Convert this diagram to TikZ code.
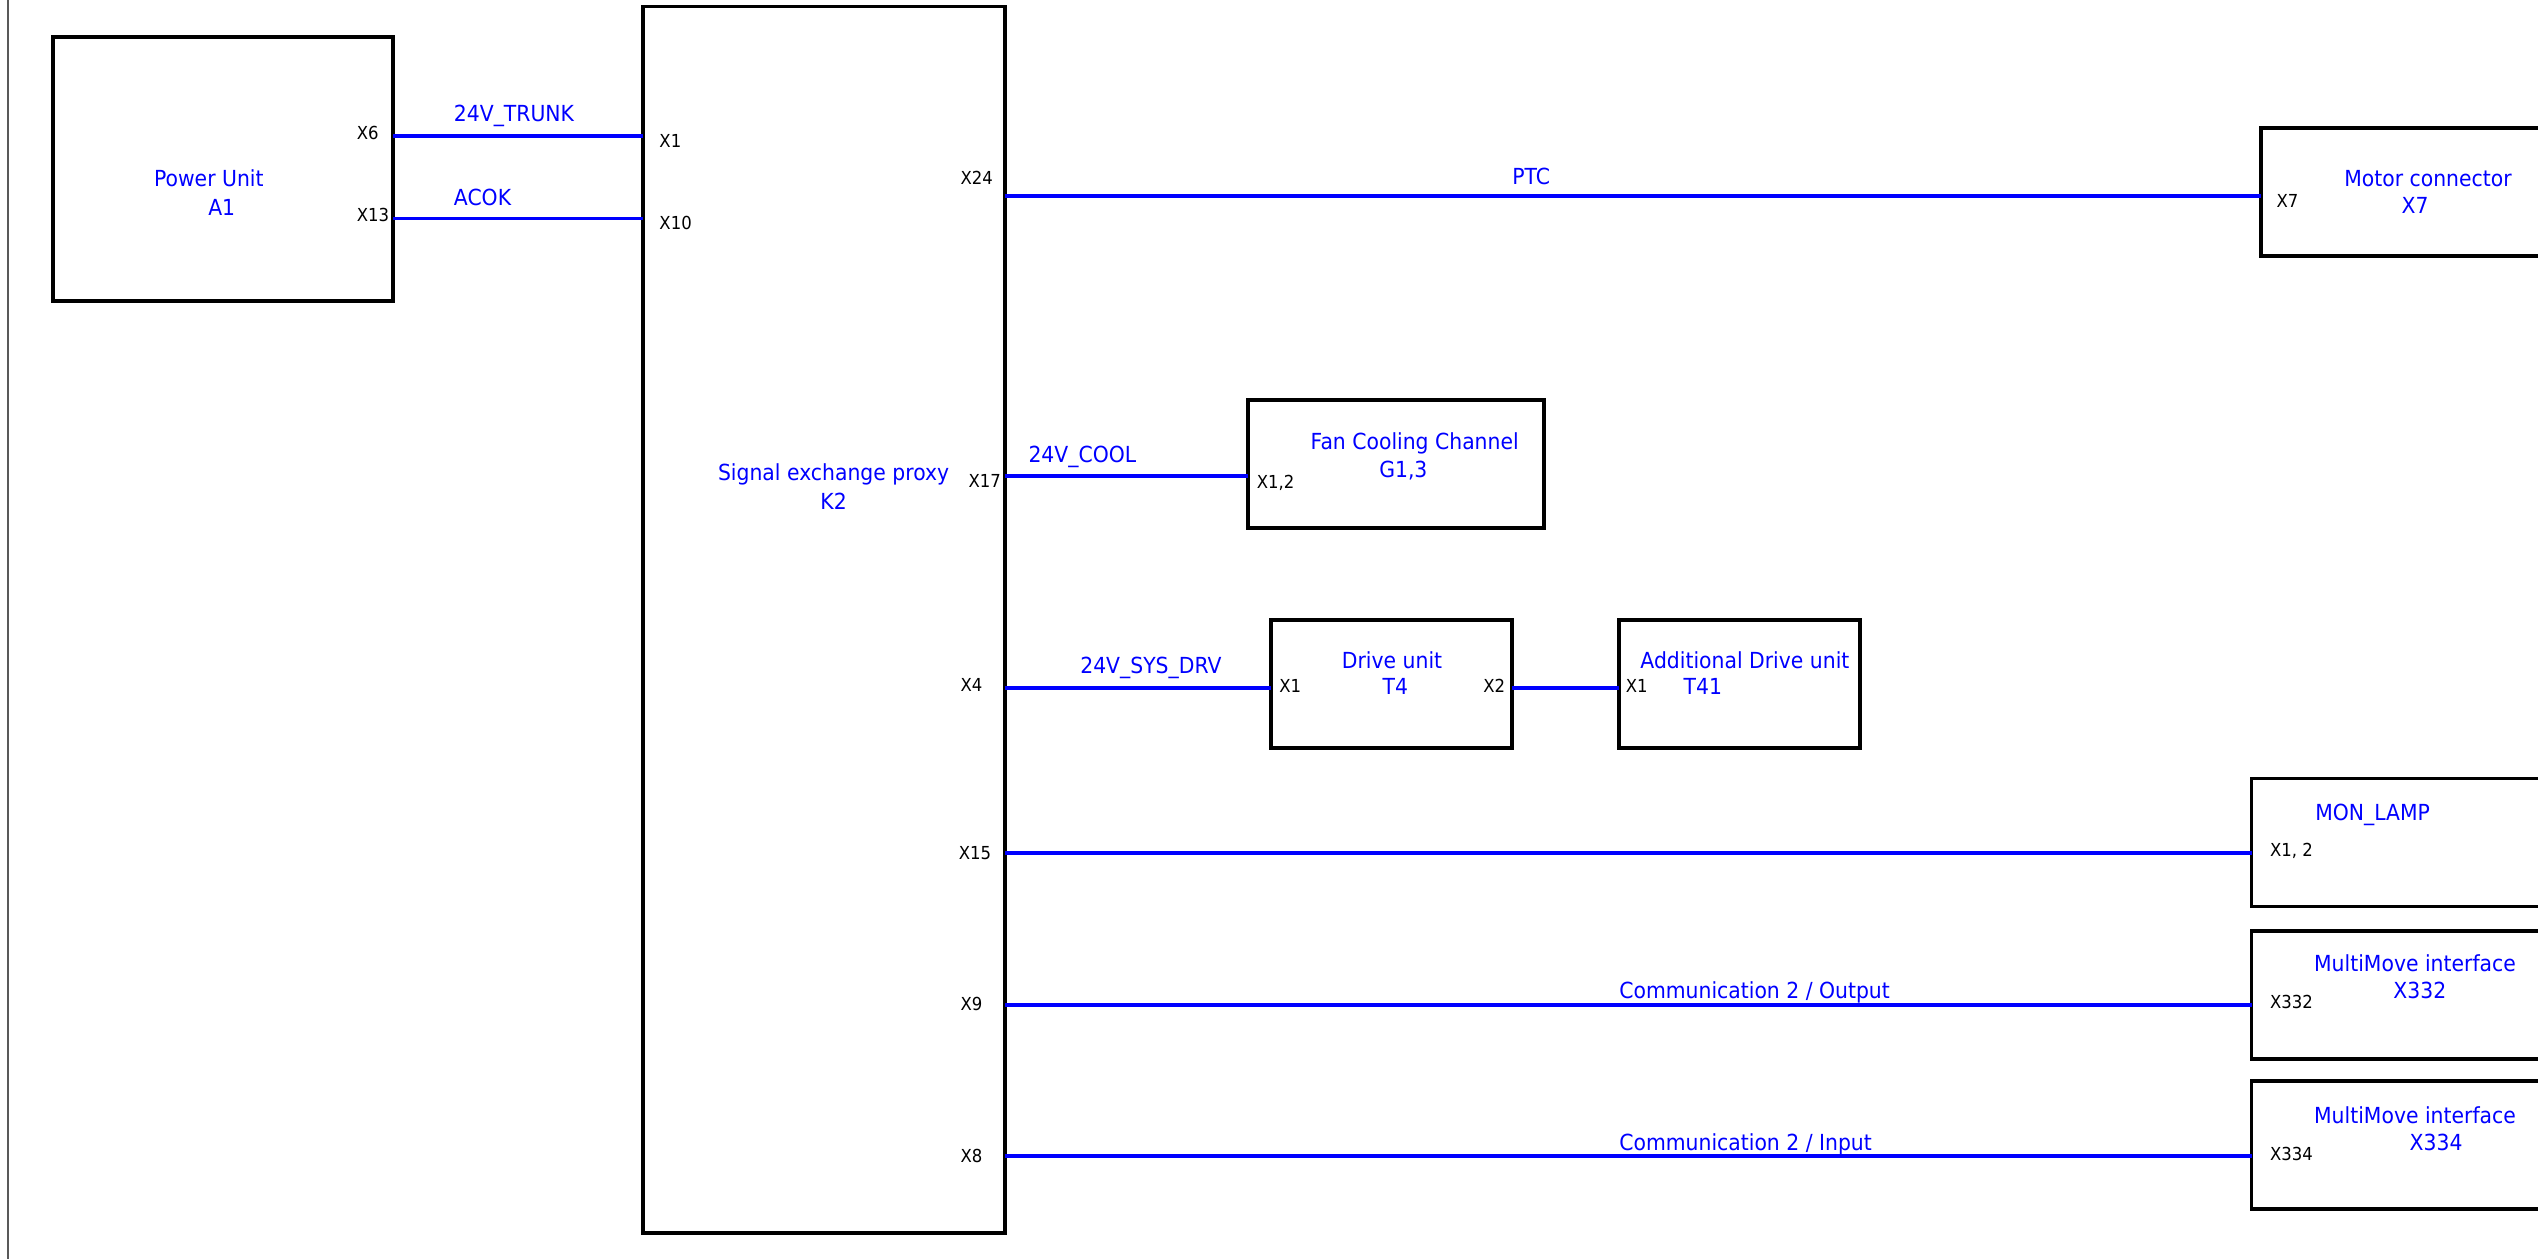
\documentclass[tikz,border=0pt]{standalone}
\usepackage{fontspec}
\setmainfont{DejaVu Sans}[FakeStretch=0.92]
\usetikzlibrary{fit}
\definecolor{wireblue}{RGB}{0,0,255}
\begin{document}
\begin{tikzpicture}[x=0.0161862cm,y=-0.0161862cm,
  box/.style={draw=black,line width=1.1pt,inner sep=0pt},
  wire/.style={draw=wireblue,line width=1.1pt},
  pin/.style={font=\fontsize{5.1}{6}\selectfont,text=black,inner sep=0pt,text height=3.7pt,text depth=0pt},
  lbl/.style={font=\fontsize{6.3}{7.5}\selectfont,text=wireblue,inner sep=0pt,text height=4.6pt,text depth=0pt},
  frameline/.style={draw=black!65,line width=0.5pt}]
\useasboundingbox (0,0) rectangle (1568,778);
\clip (0,0) rectangle (1568,778);
\fill[white] (0,0) rectangle (1568,778);
\draw[frameline] (5,0) -- (5,778);

% boxes
\node[box,fit={(33,23)(243,186)}] (pu) {};
\node[box,fit={(397,4)(621,762)}] (k2) {};
\node[box,fit={(1397,79)(1610,158)}] (mot) {};
\node[box,fit={(771,247)(954,326)}] (fan) {};
\node[box,fit={(785,383)(934,462)}] (drv) {};
\node[box,fit={(1000,383)(1149,462)}] (adrv) {};
\node[box,fit={(1391,481)(1610,560)}] (lamp) {};
\node[box,fit={(1391,575)(1610,654)}] (mmo) {};
\node[box,fit={(1391,668)(1610,747)}] (mmi) {};

% pin points
\coordinate (puX6) at (243,84);
\coordinate (puX13) at (243,135);
\coordinate (k2X1) at (397,84);
\coordinate (k2X10) at (397,135);
\coordinate (k2X24) at (621,121);
\coordinate (motX7) at (1397,121);
\coordinate (k2X17) at (621,294);
\coordinate (fanX12) at (771,294);
\coordinate (k2X4) at (621,425);
\coordinate (drvX1) at (785,425);
\coordinate (drvX2) at (934,425);
\coordinate (adrvX1) at (1000,425);
\coordinate (k2X15) at (621,527);
\coordinate (lampX12) at (1391,527);
\coordinate (k2X9) at (621,621);
\coordinate (mmoX332) at (1391,621);
\coordinate (k2X8) at (621,714);
\coordinate (mmiX334) at (1391,714);

% wires
\draw[wire] (puX6) -- (k2X1);
\draw[wire] (puX13) -- (k2X10);
\draw[wire] (k2X24) -- (motX7);
\draw[wire] (k2X17) -- (fanX12);
\draw[wire] (k2X4) -- (drvX1);
\draw[wire] (drvX2) -- (adrvX1);
\draw[wire] (k2X15) -- (lampX12);
\draw[wire] (k2X9) -- (mmoX332);
\draw[wire] (k2X8) -- (mmiX334);

% wire labels
\node[lbl,anchor=west] (w1) at (280,70) {24V\_TRUNK};
\node[lbl,anchor=west] (w2) at (280,122) {ACOK};
\node[lbl] (w3) at (946,109) {PTC};
\node[lbl,anchor=west] (w4) at (635,281) {24V\_COOL};
\node[lbl,anchor=west] (w5) at (667,411) {24V\_SYS\_DRV};
\node[lbl,anchor=west] (w6) at (1000,612) {Communication 2 / Output};
\node[lbl,anchor=west] (w7) at (1000,706) {Communication 2 / Input};

% box texts
\node[lbl] (t1a) at (129,110) {Power Unit};
\node[lbl] (t1b) at (137,128) {A1};
\node[lbl] (t2a) at (515,292) {Signal exchange proxy};
\node[lbl] (t2b) at (515,310) {K2};
\node[lbl] (t3a) at (1500,110) {Motor connector};
\node[lbl] (t3b) at (1492,127) {X7};
\node[lbl] (t4a) at (874,273) {Fan Cooling Channel};
\node[lbl] (t4b) at (867,290) {G1,3};
\node[lbl] (t5a) at (860,408) {Drive unit};
\node[lbl] (t5b) at (862,424) {T4};
\node[lbl] (t6a) at (1078,408) {Additional Drive unit};
\node[lbl] (t6b) at (1052,424) {T41};
\node[lbl,anchor=west] (t7a) at (1430,502) {MON\_LAMP};
\node[lbl] (t8a) at (1492,595) {MultiMove interface};
\node[lbl] (t8b) at (1495,612) {X332};
\node[lbl] (t9a) at (1492,689) {MultiMove interface};
\node[lbl] (t9b) at (1505,706) {X334};

% pin labels
\node[pin,anchor=west] (p1) at (220,82) {X6};
\node[pin,anchor=west] (p2) at (220,133) {X13};
\node[pin,anchor=west] (p3) at (407,87) {X1};
\node[pin,anchor=west] (p4) at (407,138) {X10};
\node[pin,anchor=west] (p5) at (593,110) {X24};
\node[pin,anchor=west] (p6) at (598,297) {X17};
\node[pin,anchor=west] (p7) at (593,423) {X4};
\node[pin,anchor=west] (p8) at (592,527) {X15};
\node[pin,anchor=west] (p9) at (593,620) {X9};
\node[pin,anchor=west] (p10) at (593,714) {X8};
\node[pin,anchor=west] (p11) at (1406,124) {X7};
\node[pin,anchor=west] (p12) at (776,298) {X1,2};
\node[pin,anchor=west] (p13) at (790,424) {X1};
\node[pin,anchor=west] (p14) at (916,424) {X2};
\node[pin,anchor=west] (p15) at (1004,424) {X1};
\node[pin,anchor=west] (p16) at (1402,525) {X1, 2};
\node[pin,anchor=west] (p17) at (1402,619) {X332};
\node[pin,anchor=west] (p18) at (1402,713) {X334};
\end{tikzpicture}
\end{document}
